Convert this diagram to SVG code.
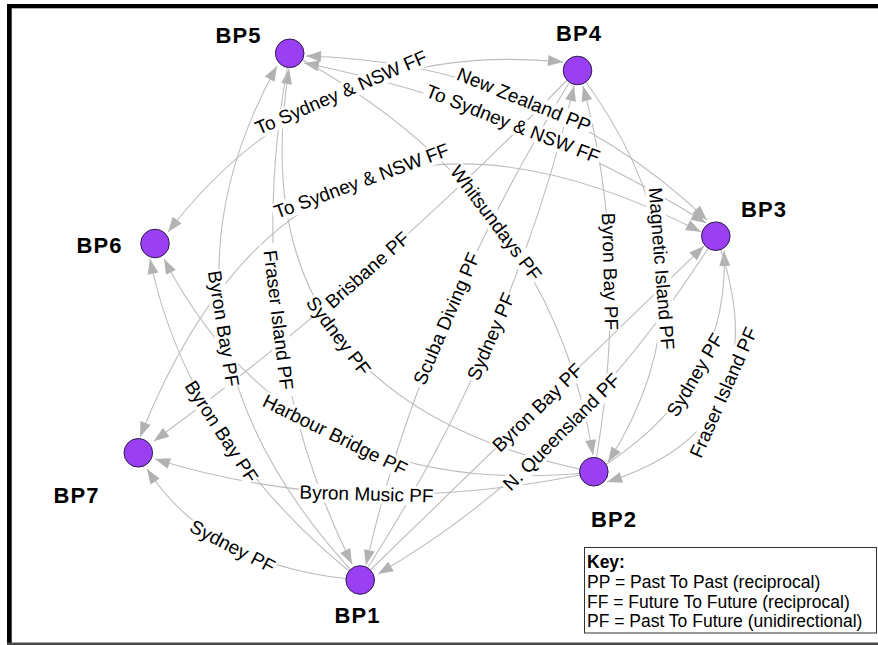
<svg xmlns="http://www.w3.org/2000/svg" width="878" height="645" viewBox="0 0 878 645">
<defs>
<marker id="ah" viewBox="-16 -7 17 14" refX="0" refY="0" markerWidth="17" markerHeight="14" markerUnits="userSpaceOnUse" orient="auto-start-reverse">
<path d="M0,0 L-15,-5.5 L-15,5.5 Z" fill="#b2b2b2"/>
</marker>
</defs>
<style>
.e{fill:none;stroke:#bdbdbd;stroke-width:1.1;marker-end:url(#ah)}
.r{marker-start:url(#ah)}
.lb rect{fill:#fff}
.lb text{font-family:"Liberation Sans",Arial,sans-serif;font-size:19px;fill:#000;text-anchor:middle}
.n circle{fill:#9a40f2;stroke:#2a1a4a;stroke-width:1}
.n text{font-family:"Liberation Sans",Arial,sans-serif;font-size:22px;font-weight:bold;letter-spacing:1px;fill:#000;text-anchor:middle}
.k{font-family:"Liberation Sans",Arial,sans-serif;font-size:17.5px;fill:#000}
</style>
<rect x="0" y="0" width="878" height="645" fill="#fff"/>
<g id="frame">
<rect x="7" y="4" width="871" height="4.3" fill="#000"/>
<rect x="7" y="4" width="4.7" height="641" fill="#000"/>
<rect x="7" y="642.5" width="871" height="2.5" fill="#4a4a4a"/>
</g>
<g id="connectors">
<path id="eA" class="e r" d="M168,232 Q316.5,38 563,62"/>
<path id="eB" class="e r" d="M306,56 Q542,62.5 707,220"/>
<path id="eC" class="e r" d="M304,63 Q520.5,106 706,223"/>
<path id="eD" class="e r" d="M140,437 Q302.5,27.5 701,232"/>
<path id="eE" class="e" d="M290,53 Q550.5,192 593,455"/>
<path id="eF" class="e" d="M577,70 Q730.5,271 608,462"/>
<path id="eG" class="e" d="M594,472 Q631.5,264 583,86"/>
<path id="eH" class="e" d="M594,472 Q731,388.5 724,251"/>
<path id="eI" class="e" d="M716,236 Q785.5,426 607,482"/>
<path id="eJ" class="e" d="M716,236 Q576,459 378,574"/>
<path id="eK" class="e" d="M360,580 Q543,402 704,246"/>
<path id="eL" class="e" d="M577,70 Q421.5,319.5 366,565"/>
<path id="eM" class="e" d="M360,580 Q515,340 574,86"/>
<path id="eN" class="e" d="M594,472 Q235.5,401.5 289,69"/>
<path id="eO" class="e" d="M577,70 Q369.5,284.5 154,441"/>
<path id="eP" class="e" d="M290,53 Q236,331.5 352,564"/>
<path id="eQ" class="e" d="M360,580 Q128.5,334 277,66"/>
<path id="eR" class="e" d="M360,580 Q188,443.5 150,259"/>
<path id="eS" class="e" d="M594,472 Q291,504.5 164,259"/>
<path id="eT" class="e" d="M594,472 Q358.5,522.5 155,459"/>
<path id="eU" class="e" d="M360,580 Q211.5,568.5 147,469"/>
</g>
<g id="edge-labels" class="lb">
<g transform="translate(341,92.5) rotate(-23.3)"><rect x="-94.5" y="-9" width="189" height="19"/><text y="6.5">To Sydney &amp; NSW FF</text></g>
<g transform="translate(524,100) rotate(22.1)"><rect x="-72.3" y="-9" width="144.6" height="19"/><text y="6.5">New Zealand PP</text></g>
<g transform="translate(513,124) rotate(21.4)"><rect x="-94.5" y="-9" width="189" height="19"/><text y="6.5">To Sydney &amp; NSW FF</text></g>
<g transform="translate(361.5,181) rotate(-20.1)"><rect x="-94.5" y="-9" width="189" height="19"/><text y="6.5">To Sydney &amp; NSW FF</text></g>
<g transform="translate(496,223) rotate(53.1)"><rect x="-70.2" y="-9" width="140.4" height="19"/><text y="6.5">Whitsundays PF</text></g>
<g transform="translate(661.5,268.5) rotate(85.5)"><rect x="-82.3" y="-9" width="164.6" height="19"/><text y="6.5">Magnetic Island PF</text></g>
<g transform="translate(610,271.5) rotate(88.4)"><rect x="-58.7" y="-9" width="117.4" height="19"/><text y="6.5">Byron Bay PF</text></g>
<g transform="translate(695,375) rotate(-59.5)"><rect x="-47.5" y="-9" width="95" height="19"/><text y="6.5">Sydney PF</text></g>
<g transform="translate(723.5,392.5) rotate(-66.1)"><rect x="-77" y="-9" width="154" height="19"/><text y="6.5">Fraser Island PF</text></g>
<g transform="translate(561.5,432) rotate(-45)"><rect x="-80" y="-9" width="160" height="19"/><text y="6.5">N. Queensland PF</text></g>
<g transform="translate(537.5,407.5) rotate(-44.2)"><rect x="-58.7" y="-9" width="117.4" height="19"/><text y="6.5">Byron Bay PF</text></g>
<g transform="translate(446.5,318.5) rotate(-66.9)"><rect x="-74" y="-9" width="148" height="19"/><text y="6.5">Scuba Diving PF</text></g>
<g transform="translate(491,336.5) rotate(-66.6)"><rect x="-47.5" y="-9" width="95" height="19"/><text y="6.5">Sydney PF</text></g>
<g transform="translate(338.5,336) rotate(52.9)"><rect x="-47.5" y="-9" width="95" height="19"/><text y="6.5">Sydney PF</text></g>
<g transform="translate(367.5,270) rotate(-41.4)"><rect x="-55" y="-9" width="110" height="19"/><text y="6.5">Brisbane PF</text></g>
<g transform="translate(278.5,320) rotate(83.1)"><rect x="-77" y="-9" width="154" height="19"/><text y="6.5">Fraser Island PF</text></g>
<g transform="translate(223.5,328.5) rotate(80.8)"><rect x="-58.7" y="-9" width="117.4" height="19"/><text y="6.5">Byron Bay PF</text></g>
<g transform="translate(221.5,431.5) rotate(56.8)"><rect x="-58.7" y="-9" width="117.4" height="19"/><text y="6.5">Byron Bay PF</text></g>
<g transform="translate(335,435) rotate(26.4)"><rect x="-82" y="-9" width="164" height="19"/><text y="6.5">Harbour Bridge PF</text></g>
<g transform="translate(366.5,494) rotate(1.7)"><rect x="-68" y="-9" width="136" height="19"/><text y="6.5">Byron Music PF</text></g>
<g transform="translate(232.5,546.5) rotate(27.5)"><rect x="-47.5" y="-9" width="95" height="19"/><text y="6.5">Sydney PF</text></g>
</g>
<g id="BP1" class="n"><circle cx="360.2" cy="580" r="14.3"/><text x="357.5" y="623">BP1</text></g>
<g id="BP2" class="n"><circle cx="593.8" cy="471.7" r="14.3"/><text x="614" y="526.5">BP2</text></g>
<g id="BP3" class="n"><circle cx="715.8" cy="236.2" r="14.3"/><text x="764" y="216.5">BP3</text></g>
<g id="BP4" class="n"><circle cx="577.5" cy="70.5" r="14.3"/><text x="579" y="40.5">BP4</text></g>
<g id="BP5" class="n"><circle cx="289.7" cy="53.3" r="14.3"/><text x="238.5" y="43">BP5</text></g>
<g id="BP6" class="n"><circle cx="155" cy="243.5" r="14.3"/><text x="99.5" y="253">BP6</text></g>
<g id="BP7" class="n"><circle cx="138.3" cy="452.8" r="14.3"/><text x="76.5" y="503">BP7</text></g>
<g id="key">
<rect x="584.5" y="547.5" width="292" height="85.5" fill="#fff" stroke="#333" stroke-width="1"/>
<text class="k" x="587" y="568" font-weight="bold">Key:</text>
<text class="k" x="587" y="588">PP = Past To Past (reciprocal)</text>
<text class="k" x="587" y="608">FF = Future To Future (reciprocal)</text>
<text class="k" x="587" y="627">PF = Past To Future (unidirectional)</text>
</g>
</svg>
